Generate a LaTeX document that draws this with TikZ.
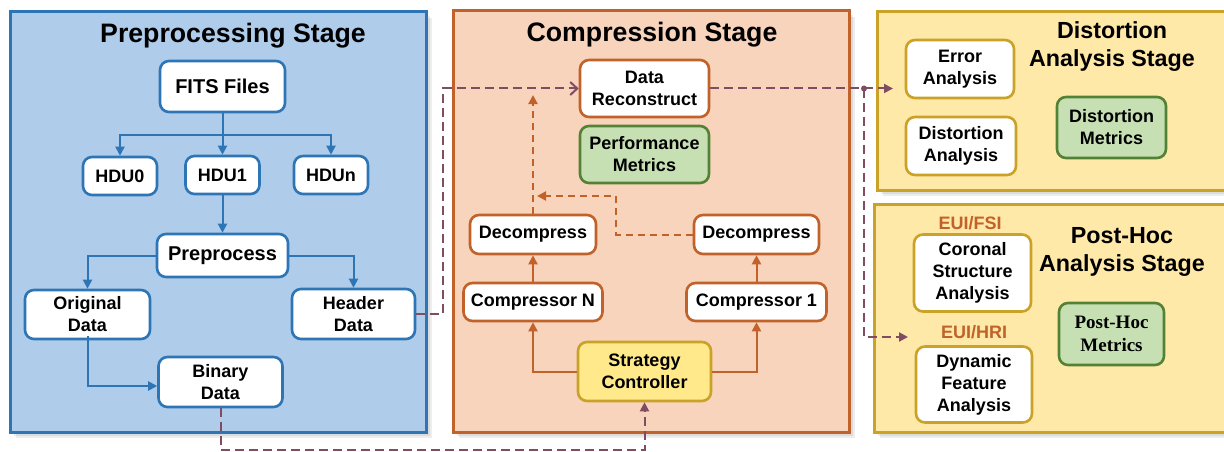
\documentclass[tikz,border=0pt]{standalone}
\usepackage{fontspec}
\setmainfont{Liberation Sans}
\newfontfamily\serifbold{Liberation Serif}
\usetikzlibrary{arrows.meta}
\definecolor{bluefill}{HTML}{AFCCEA}
\definecolor{blueline}{HTML}{2E75B6}
\definecolor{peachfill}{HTML}{F8D4BC}
\definecolor{orangeline}{HTML}{C0622A}
\definecolor{yellowfill}{HTML}{FFE9A8}
\definecolor{goldline}{HTML}{C9A227}
\definecolor{stratfill}{HTML}{FFE98A}
\definecolor{greenfill}{HTML}{C6E0B4}
\definecolor{greenline}{HTML}{548235}
\definecolor{mauve}{HTML}{7F4C62}
\tikzset{
  panel/.style={draw, line width=3pt, inner sep=0pt},
  bbox/.style={draw, fill=white, rounded corners=9pt, line width=2.6pt, align=center, inner sep=0pt,
    font=\bfseries\fontsize{18}{22}\selectfont},
  bluebox/.style={bbox, draw=blueline},
  orbox/.style={bbox, draw=orangeline},
  gdbox/.style={bbox, draw=goldline},
  grbox/.style={bbox, draw=greenline, fill=greenfill},
  title/.style={font=\bfseries\fontsize{26.7}{30}\selectfont, align=center, inner sep=0pt},
  rtitle/.style={font=\bfseries\fontsize{23.3}{28}\selectfont, align=center, inner sep=0pt},
  euilabel/.style={text=orangeline, font=\bfseries\fontsize{18}{22}\selectfont, inner sep=0pt},
  barrow/.style={draw=blueline, line width=2pt, -{Triangle[length=9pt,width=9pt]}},
  oarrow/.style={draw=orangeline, line width=2pt, -{Triangle[length=9pt,width=9pt]}},
  odash/.style={oarrow, dash pattern=on 7pt off 5pt},
  pdash/.style={draw=mauve, line width=2pt, dash pattern=on 9pt off 5pt, -{Triangle[length=9pt,width=9pt]}},
  pdashopen/.style={draw=mauve, line width=2pt, dash pattern=on 9pt off 5pt, -{Straight Barb[length=7pt,width=13pt]}},
  shadowfill/.style={fill=black, opacity=0.07},
}
\begin{document}
\begin{tikzpicture}[x=1pt,y=-1pt]
\useasboundingbox (0,0) rectangle (1224,452);
\fill[white] (0,0) rectangle (1224,452);
% shadows
\foreach \d in {2,4,6}{
  \fill[shadowfill] (10+\d,12+\d) rectangle (426+\d,432+\d);
  \fill[shadowfill] (453+\d,11+\d) rectangle (849+\d,432+\d);
  \fill[shadowfill] (877+\d,12+\d) rectangle (1240,190+\d);
  \fill[shadowfill] (874+\d,204+\d) rectangle (1240,432+\d);
}
% panels
\node[panel, draw=blueline, fill=bluefill, minimum width=416pt, minimum height=420pt] (prepPanel) at (218,222) {};
\node[panel, draw=orangeline, fill=peachfill, minimum width=396pt, minimum height=421pt] (compPanel) at (651,221.5) {};
\node[panel, draw=goldline, fill=yellowfill, minimum width=363pt, minimum height=178pt] (distPanel) at (1058.5,101) {};
\node[panel, draw=goldline, fill=yellowfill, minimum width=366pt, minimum height=228pt] (postPanel) at (1057,318) {};

% titles
\node[title] (preTitle) at (233,36) {Preprocessing Stage};
\node[title] (compTitle) at (652,35) {Compression Stage};
\node[rtitle] (distTitle) at (1112,47) {Distortion\\Analysis Stage};
\node[rtitle] (postTitle) at (1122,252) {Post-Hoc\\Analysis Stage};

% preprocessing nodes
\node[bluebox, minimum width=125pt, minimum height=51pt, font=\bfseries\fontsize{20}{24}\selectfont] (fits) at (222.5,86.5) {FITS Files};
\node[bluebox, minimum width=74pt, minimum height=38pt] (hdu0) at (120,176) {HDU0};
\node[bluebox, minimum width=74pt, minimum height=38pt] (hdu1) at (222.5,175) {HDU1};
\node[bluebox, minimum width=74pt, minimum height=38pt] (hdun) at (331,175) {HDUn};
\node[bluebox, minimum width=131pt, minimum height=43pt, font=\bfseries\fontsize{20}{24}\selectfont] (prep) at (222.5,255.5) {Preprocess};
\node[bluebox, minimum width=125pt, minimum height=49pt] (orig) at (87.5,314.5) {Original\\Data};
\node[bluebox, minimum width=123pt, minimum height=50pt] (head) at (353.5,314) {Header\\Data};
\node[bluebox, minimum width=124pt, minimum height=50pt] (bin) at (220.5,382) {Binary\\Data};

% compression nodes
\node[orbox, minimum width=129pt, minimum height=57pt] (recon) at (644.5,88.5) {Data\\Reconstruct};
\node[grbox, minimum width=129pt, minimum height=57pt] (perf) at (644.5,154.5) {Performance\\Metrics};
\node[orbox, minimum width=126pt, minimum height=39pt] (decL) at (533,234.5) {Decompress};
\node[orbox, minimum width=125pt, minimum height=39pt] (decR) at (756.5,234.5) {Decompress};
\node[orbox, minimum width=139pt, minimum height=38pt] (compN) at (533,302) {Compressor N};
\node[orbox, minimum width=140pt, minimum height=38pt] (comp1) at (756.5,302) {Compressor 1};
\node[bbox, draw=goldline, fill=stratfill, minimum width=133pt, minimum height=59pt] (strat) at (644.5,371.5) {Strategy\\Controller};

% distortion nodes
\node[gdbox, minimum width=108pt, minimum height=58pt] (err) at (960,69) {Error\\Analysis};
\node[gdbox, minimum width=110pt, minimum height=58pt] (dist) at (961,146) {Distortion\\Analysis};
\node[grbox, minimum width=109pt, minimum height=61pt] (dmet) at (1111.5,127.5) {Distortion\\Metrics};

% post-hoc nodes
\node[euilabel] (fsi) at (970,223) {EUI/FSI};
\node[gdbox, minimum width=117pt, minimum height=77pt] (coro) at (972.5,273) {Coronal\\Structure\\Analysis};
\node[euilabel] (hri) at (974,332) {EUI/HRI};
\node[gdbox, minimum width=116pt, minimum height=76pt] (dyn) at (974,384.5) {Dynamic\\Feature\\Analysis};
\node[grbox, minimum width=105pt, minimum height=62pt, font=\serifbold\bfseries\fontsize{19}{23}\selectfont] (phmet) at (1111.5,334) {Post-Hoc\\Metrics};

% blue connectors
\coordinate (split) at (222.5,135);
\draw[draw=blueline, line width=2pt] (fits.south) -- (split);
\draw[barrow] (split) -| (hdu0.north);
\draw[barrow] (split) -| (hdun.north);
\draw[barrow] (split) -- (hdu1.north);
\draw[barrow] (hdu1.south) -- (prep.north);
\draw[barrow] (prep.west) -| (orig.north);
\draw[barrow] (prep.east) -| (head.north);
\draw[barrow] ([yshift=4pt]orig.south) |- ([yshift=-4pt]bin.west);

% orange connectors
\draw[oarrow] (strat.west) -| (compN.south);
\draw[oarrow] (strat.east) -| (comp1.south);
\draw[oarrow] (compN.north) -- (decL.south);
\draw[oarrow] (comp1.north) -- (decR.south);
\coordinate (upEnd) at (533,95);
\draw[odash] (decL.north) -- (upEnd);
\coordinate (mergeEnd) at (537,196);
\draw[odash] (decR.west) -| (616,196) -- (mergeEnd);

% purple connectors
\draw[pdashopen] (head.east) -- (443,314) |- (recon.west);
\draw[pdash] (bin.south) -- (220.5,450) -| (strat.south);
\coordinate (errIn) at (893,88.5);
\coordinate (dot) at (864,88.5);
\draw[pdash] (recon.east) -- (errIn);
\coordinate (dynIn) at (908,337);
\draw[pdash] (dot) |- (dynIn);
\fill[mauve] (dot) circle (3pt);
\end{tikzpicture}
\end{document}
